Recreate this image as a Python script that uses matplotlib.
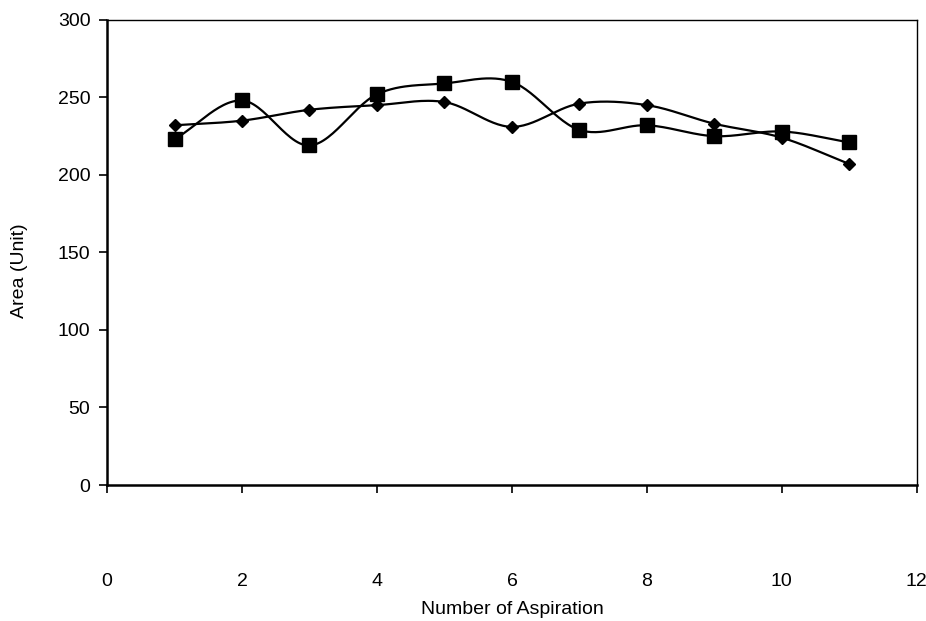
import numpy as np
import matplotlib
matplotlib.use("Agg")
import matplotlib.pyplot as plt

plt.rcParams['font.family'] = ['Liberation Sans', 'DejaVu Sans']

aspiration = [1, 2, 3, 4, 5, 6, 7, 8, 9, 10, 11]
series_diamond = [232, 235, 242, 245, 247, 231, 246, 245, 233, 224, 207]
series_square = [223, 248, 219, 252, 259, 260, 229, 232, 225, 228, 221]
x_ticks = [0, 2, 4, 6, 8, 10, 12]
y_ticks = [0, 50, 100, 150, 200, 250, 300]


def smooth(xs, ys, n=30, tension=0.5):
    """Catmull-Rom style smoothing like spreadsheet 'smoothed line'."""
    xs = np.asarray(xs, float)
    ys = np.asarray(ys, float)
    px = np.concatenate([[2 * xs[0] - xs[1]], xs, [2 * xs[-1] - xs[-2]]])
    py = np.concatenate([[2 * ys[0] - ys[1]], ys, [2 * ys[-1] - ys[-2]]])
    outx, outy = [], []
    for i in range(1, len(px) - 2):
        p0, p1, p2, p3 = (np.array([px[j], py[j]]) for j in (i - 1, i, i + 1, i + 2))
        c1 = p1 + (p2 - p0) * tension / 3
        c2 = p2 - (p3 - p1) * tension / 3
        t = np.linspace(0, 1, n)[:, None]
        pts = ((1 - t) ** 3) * p1 + 3 * ((1 - t) ** 2) * t * c1 + 3 * (1 - t) * t ** 2 * c2 + t ** 3 * p2
        outx.extend(pts[:, 0])
        outy.extend(pts[:, 1])
    return np.array(outx), np.array(outy)


fig = plt.figure(figsize=(9.26, 6.21), dpi=100)
ax = fig.add_axes([0.1156, 0.219, 0.8745, 0.749])

for ys, mk, ms in [(series_diamond, 'D', 6.5), (series_square, 's', 9.5)]:
    sx, sy = smooth(aspiration, ys)
    ax.plot(sx, sy, color='black', lw=1.6, zorder=2)
    ax.plot(aspiration, ys, linestyle='none', marker=mk, markersize=ms,
            color='black', zorder=3)

ax.set_xlim(0, 12)
ax.set_ylim(0, 300)
ax.set_xticks(x_ticks)
ax.set_yticks(y_ticks)
ax.tick_params(axis='x', direction='out', length=6, width=1.2, pad=57, labelsize=14)
ax.tick_params(axis='y', direction='out', length=6, width=1.2, pad=6, labelsize=14)

for side in ['left', 'bottom']:
    ax.spines[side].set_linewidth(1.8)
for side in ['top', 'right']:
    ax.spines[side].set_linewidth(1.0)

ax.set_xlabel('Number of Aspiration', fontsize=14, labelpad=8)
ax.set_ylabel('Area (Unit)', fontsize=14)
ax.yaxis.set_label_coords(-0.098, 0.46)

fig.savefig('out.png', dpi=100)
